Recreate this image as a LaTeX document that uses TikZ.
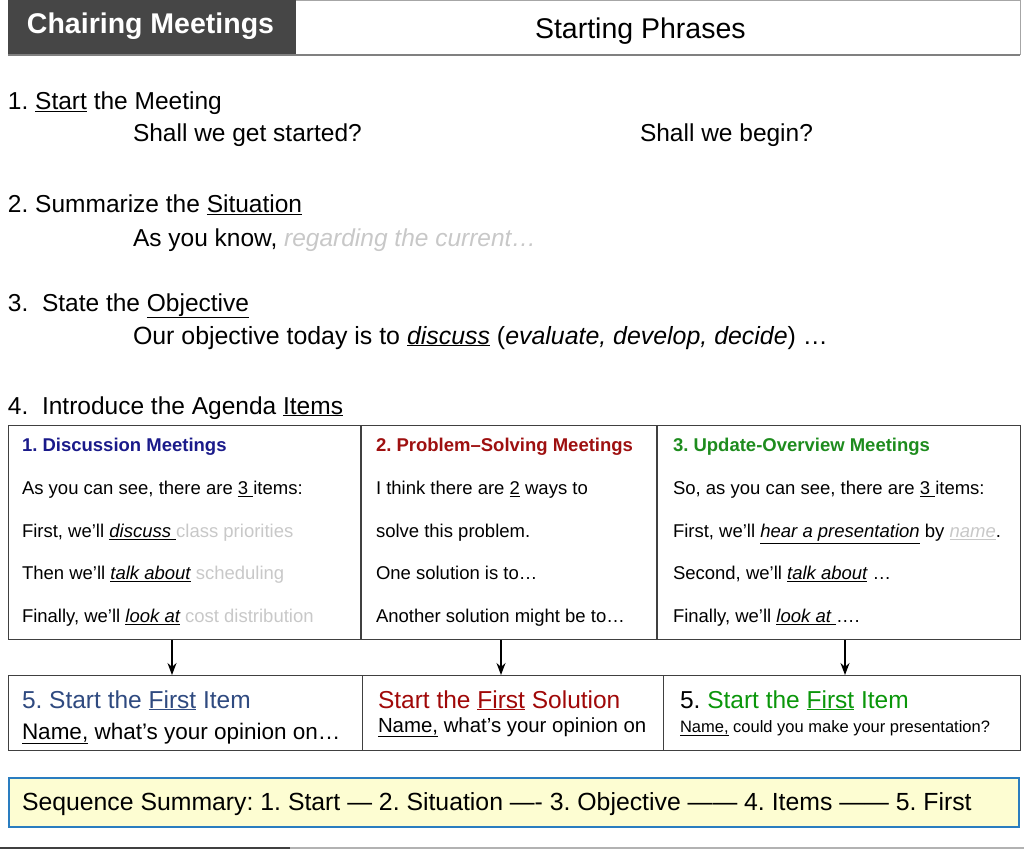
\documentclass[tikz,border=0pt]{standalone}
\usepackage{fontspec}
\setmainfont{Liberation Sans}
\usetikzlibrary{arrows.meta}
\definecolor{titlebg}{HTML}{464646}
\definecolor{lg}{HTML}{C8C8C8}
\definecolor{navyA}{HTML}{1A1A8A}
\definecolor{redA}{HTML}{9E1010}
\definecolor{greenA}{HTML}{1E8C1E}
\definecolor{blueB}{HTML}{2F4A80}
\definecolor{redB}{HTML}{A00808}
\definecolor{greenB}{HTML}{0A960A}
\definecolor{yel}{HTML}{FDFDD2}
\definecolor{sumblue}{HTML}{2A7DC0}
\definecolor{frame}{HTML}{404040}
\frenchspacing
\begin{document}
\begin{tikzpicture}[x=1pt,y=-1pt,
  txt/.style={anchor=base west, inner sep=0pt, outer sep=0pt},
  big/.style={txt, font=\fontsize{24.5}{28}\selectfont},
  tab/.style={txt, font=\fontsize{18.5}{22}\selectfont},
  tabh/.style={txt, font=\fontsize{18.5}{22}\selectfont\bfseries},
  boxA/.style={draw=frame, line width=1.2pt, anchor=north west, inner sep=0pt},
  arr/.style={-{Stealth[length=12pt,width=9pt]}, line width=1.4pt, black}]
\useasboundingbox (0,0) rectangle (1024,850);
% header
\node[draw=gray!70, line width=0.8pt, anchor=north west, minimum width=725pt, minimum height=54pt, inner sep=0pt] (hdr) at (295,0) {};
\draw[gray, line width=2pt] (8,55) -- (1020,55);
\node[fill=titlebg, anchor=north west, minimum width=288pt, minimum height=54pt, inner sep=0pt] (ttl) at (8,0) {};
\node[txt, font=\fontsize{28.5}{32}\selectfont\bfseries, text=white] (ttltext) at (27,34) {Chairing Meetings};
\node[txt, font=\fontsize{28.5}{32}\selectfont] (sp) at (535,39) {Starting Phrases};
% sections
\node[big] (s1) at (8,110) {1. \underline{Start} the Meeting};
\node[big] (s1a) at (133,142) {Shall we get started?};
\node[big] (s1b) at (640,142) {Shall we begin?};
\node[big] (s2) at (8,213) {2. Summarize the \underline{Situation}};
\node[big] (s2a) at (133,246) {As you know, \textcolor{lg}{\itshape regarding the current…}};
\node[big] (s3) at (8,311) {3.\ \ State the \underline{Objective}};
\node[big, font=\fontsize{24.9}{28}\selectfont] (s3a) at (133,344) {Our objective today is to \underline{\itshape discuss} (\textit{evaluate, develop, decide}) …};
\node[big] (s4) at (8,414) {4.\ \ Introduce the Agenda \underline{Items}};
% table
\node[boxA, minimum width=1012pt, minimum height=214pt] (tbl) at (8,425) {};
\draw[frame, line width=1.2pt] (361,425) -- (361,639);
\draw[frame, line width=1.2pt] (657,425) -- (657,639);
\node[tabh, text=navyA] (h1) at (22,451.5) {1. Discussion Meetings};
\node[tab] (c11) at (22,494.5) {As you can see, there are \underline{3 }items:};
\node[tab] (c12) at (22,537.5) {First, we’ll \underline{\itshape discuss }\textcolor{lg}{class priorities}};
\node[tab] (c13) at (22,579.5) {Then we’ll \underline{\itshape talk about} \textcolor{lg}{scheduling}};
\node[tab] (c14) at (22,622.5) {Finally, we’ll \underline{\itshape look at} \textcolor{lg}{cost distribution}};
\node[tabh, text=redA] (h2) at (376,451.5) {2. Problem–Solving Meetings};
\node[tab] (c21) at (376,494.5) {I think there are \underline{2} ways to};
\node[tab] (c22) at (376,537.5) {solve this problem.};
\node[tab] (c23) at (376,579.5) {One solution is to…};
\node[tab] (c24) at (376,622.5) {Another solution might be to…};
\node[tabh, text=greenA] (h3) at (673,451.5) {3. Update-Overview Meetings};
\node[tab] (c31) at (673,494.5) {So, as you can see, there are \underline{3 }items:};
\node[tab] (c32) at (673,537.5) {First, we’ll \underline{\itshape hear a presentation} by \textcolor{lg}{\underline{\itshape name}}.};
\node[tab] (c33) at (673,579.5) {Second, we’ll \underline{\itshape talk about} …};
\node[tab] (c34) at (673,622.5) {Finally, we’ll \underline{\itshape look at }….};
% bottom boxes
\node[boxA, minimum width=354pt, minimum height=75pt] (b1) at (8,675) {};
\node[boxA, minimum width=301pt, minimum height=75pt] (b2) at (362,675) {};
\node[boxA, minimum width=357pt, minimum height=75pt] (b3) at (663,675) {};
\coordinate (a1) at (172,0);
\coordinate (a2) at (501,0);
\coordinate (a3) at (845,0);
\draw[arr] (tbl.south -| a1) -- (b1.north -| a1);
\draw[arr] (tbl.south -| a2) -- (b2.north -| a2);
\draw[arr] (tbl.south -| a3) -- (b3.north -| a3);
\node[big, text=blueB] (t1) at (22,708) {5. Start the \underline{First} Item};
\node[txt, font=\fontsize{22.5}{26}\selectfont] (n1) at (22,739) {\underline{Name,} what’s your opinion on…};
\node[big, text=redB] (t2) at (378,708) {Start the \underline{First} Solution};
\node[txt, font=\fontsize{20.4}{24}\selectfont] (n2) at (378,732) {\underline{Name,} what’s your opinion on};
\node[big] (t3) at (680,708) {5. \textcolor{greenB}{Start the \underline{First} Item}};
\node[txt, font=\fontsize{16.5}{20}\selectfont] (n3) at (680,732) {\underline{Name,} could you make your presentation?};
% summary
\node[draw=sumblue, fill=yel, line width=2pt, anchor=north west, minimum width=1010pt, minimum height=49pt, inner sep=0pt] (sum) at (8,777) {};
\node[big, font=\fontsize{24.8}{28}\selectfont] (sumt) at (22,810) {Sequence Summary: 1. Start — 2. Situation —- 3. Objective —— 4. Items —— 5. First};
% bottom rule
\draw[gray!60, line width=1.2pt] (0,848) -- (1024,848);
\draw[frame, line width=1.5pt] (0,848) -- (290,848);
\end{tikzpicture}
\end{document}
